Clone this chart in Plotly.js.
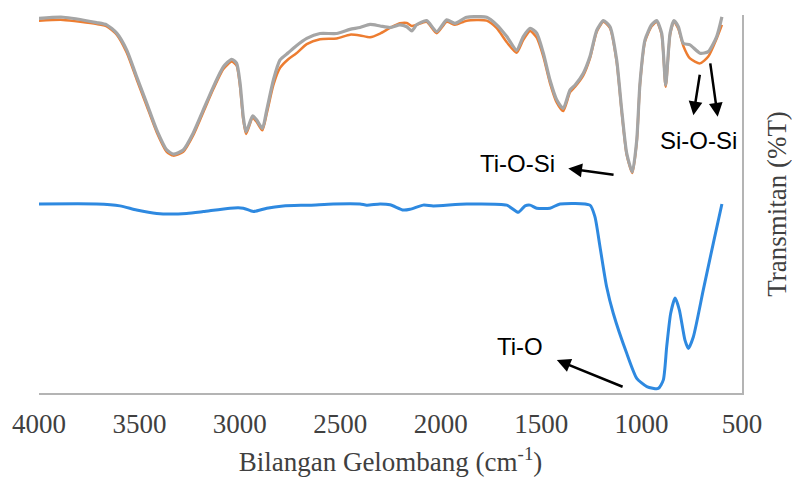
<!DOCTYPE html>
<html>
<head>
<meta charset="utf-8">
<script src="https://cdn.plot.ly/plotly-3.0.1.min.js"></script>
<style>html,body{margin:0;padding:0;background:#fff;}#chart{width:792px;height:477px;}</style>
</head>
<body>
<div id="chart"></div>
<script>
// Wavenumbers (cm-1) for the two upper spectra
var waveTop = [4000,3880,3713,3663,3613,3563,3514,3464,3414,3364,3331,3282,3232,3182,3132,3082,3041,3016,2999,2983,2969,2936,2916,2888,2866,2833,2800,2759,2720,2667,2601,2518,2452,2402,2352,2302,2252,2203,2169,2144,2120,2070,2020,1970,1929,1871,1771,1721,1671,1622,1589,1555,1522,1489,1456,1422,1390,1356,1331,1290,1257,1223,1190,1157,1124,1099,1074,1046,1024,1008,983,950,925,900,880,858,839,817,792,759,709,668,626,600];
// Gray spectrum (relative transmittance)
var grayT = [99.1,99.4,98.0,97.4,95.2,90.7,83.7,76.7,69.6,64.3,63.2,64.3,68.8,74.9,81.0,86.3,88.3,87.2,82.0,73.1,69.1,73.3,72.2,70.0,74.9,82.8,88.1,90.0,91.8,93.8,95.1,95.1,96.2,96.7,97.5,97.1,96.7,97.4,96.9,95.8,97.4,98.5,95.6,98.7,97.8,99.4,99.4,97.4,94.3,90.7,94.3,96.5,95.2,89.9,82.8,77.5,75.3,80.2,81.5,84.6,89.0,96.0,98.5,96.9,88.1,74.9,63.4,58.5,66.9,81.9,93.4,97.4,98.5,95.2,81.5,95.2,98.5,96.9,92.5,92.1,89.9,90.3,94.3,99.5];
// Orange spectrum
var orangeT = [98.5,98.7,97.6,97.0,94.8,90.0,83.0,76.0,69.0,63.8,62.8,63.8,68.2,74.3,80.4,85.7,87.7,86.6,81.0,72.3,68.5,72.8,71.7,69.5,74.0,81.5,86.0,88.3,89.8,92.3,93.6,93.8,94.8,94.6,94.1,95.1,96.6,97.8,97.9,97.1,97.4,98.2,95.2,98.2,97.4,98.5,98.5,96.5,92.8,90.0,93.4,95.8,94.0,89.0,82.0,76.8,74.6,79.6,81.0,84.0,88.5,95.6,98.2,96.5,87.6,74.4,63.0,58.2,66.5,81.5,93.0,97.0,98.2,94.8,81.0,94.8,98.2,96.4,91.8,88.5,87.2,89.0,93.8,97.4];
// Blue spectrum
var waveBlue = [4000,3713,3597,3514,3414,3265,3182,3049,2983,2933,2866,2784,2651,2535,2402,2368,2302,2252,2186,2153,2087,2037,1871,1671,1614,1580,1555,1522,1456,1406,1257,1232,1207,1174,1141,1074,1024,974,917,892,875,855,833,812,784,767,742,693,643,600];
var blueT = [50.0,50.0,49.5,48.4,47.5,47.5,48.0,48.9,48.9,48.0,48.9,49.5,49.7,50.0,50.0,49.7,50.0,49.8,48.4,48.6,49.7,49.5,50.0,49.7,47.8,49.5,49.7,48.9,48.9,50.0,49.7,46.6,38.7,28.1,21.1,10.5,3.9,1.7,1.2,3.4,12.2,21.1,25.1,22.0,14.0,11.8,14.9,27.2,39.6,50.0];
// Tick labels
var tickVals = [4000,3500,3000,2500,2000,1500,1000,500];
var tickText = ['4000','3500','3000','2500','2000','1500','1000','500'];
// Labels
var labels = ['Ti-O-Si','Ti-O','Si-O-Si'];
var labelX = [1620,1605,719];
var labelY = [60.8,12.2,66.9];
// Arrows: tip and tail
var arrowTipX = [1365,1422,742,621];
var arrowTipY = [59.4,8.7,73.5,73.1];
var arrowTailX = [1132,1087,709,659];
var arrowTailY = [57.7,1.5,84.6,87.6];

var traces = [
  {x: waveTop, y: orangeT, type:'scatter', mode:'lines', line:{color:'#ED7D31', width:2.5, shape:'spline', smoothing:0.6}, hoverinfo:'skip'},
  {x: waveTop, y: grayT, type:'scatter', mode:'lines', line:{color:'#A5A5A5', width:3.2, shape:'spline', smoothing:0.6}, hoverinfo:'skip'},
  {x: waveBlue, y: blueT, type:'scatter', mode:'lines', line:{color:'#2E89E0', width:3, shape:'spline', smoothing:0.6}, hoverinfo:'skip'}
];

var annotations = [];
for (var i=0;i<labels.length;i++){
  annotations.push({x:labelX[i], y:labelY[i], xref:'x', yref:'y', text:labels[i], showarrow:false,
    font:{family:'Liberation Sans, Arial, sans-serif', size:24, color:'#000'}});
}
for (var j=0;j<arrowTipX.length;j++){
  annotations.push({x:arrowTipX[j], y:arrowTipY[j], ax:arrowTailX[j], ay:arrowTailY[j], xref:'x', yref:'y', axref:'x', ayref:'y',
    text:'', showarrow:true, arrowhead:2, arrowsize:1.1, arrowwidth:2.5, arrowcolor:'#000', standoff:0, startstandoff:0});
}

var layout = {
  width:792, height:477,
  margin:{l:39, r:50, t:15, b:84},
  paper_bgcolor:'#fff', plot_bgcolor:'#fff',
  showlegend:false,
  xaxis:{range:[4000,500], tickvals:tickVals, ticktext:tickText, showgrid:false, zeroline:false,
    showline:true, linecolor:'#B4B4B4', linewidth:2,
    ticks:'outside', ticklen:6, tickcolor:'rgba(0,0,0,0)',
    tickfont:{family:'Liberation Serif, Times New Roman, serif', size:27, color:'#404040'},
    title:{text:'Bilangan Gelombang (cm<sup>-1</sup>)', standoff:14,
      font:{family:'Liberation Serif, Times New Roman, serif', size:27, color:'#404040'}}},
  yaxis:{range:[0,100], side:'right', showgrid:false, zeroline:false, showticklabels:false, ticks:'',
    showline:true, linecolor:'#B4B4B4', linewidth:2,
    title:{text:'Transmitan (%T)', standoff:24,
      font:{family:'Liberation Serif, Times New Roman, serif', size:27, color:'#404040'}}},
  annotations: annotations
};
Plotly.newPlot('chart', traces, layout, {staticPlot:true, displayModeBar:false});
</script>
</body>
</html>
